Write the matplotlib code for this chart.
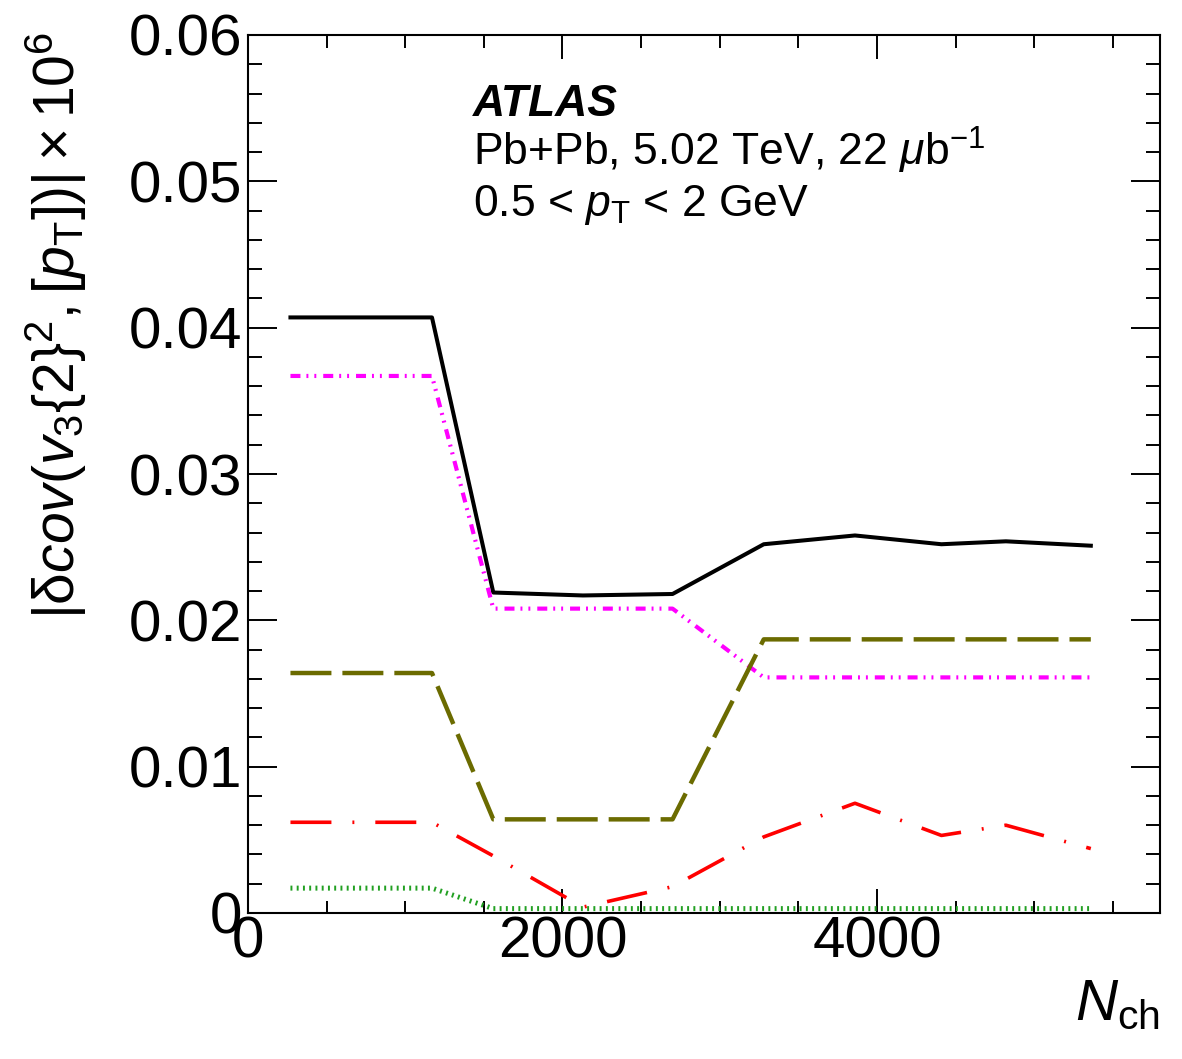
import matplotlib
matplotlib.use('Agg')
import matplotlib.pyplot as plt
from matplotlib.ticker import MultipleLocator, FuncFormatter

plt.rcParams['font.family'] = ['Liberation Sans', 'DejaVu Sans']
plt.rcParams['mathtext.fontset'] = 'custom'
plt.rcParams['mathtext.rm'] = 'Liberation Sans'
plt.rcParams['mathtext.it'] = 'Liberation Sans:italic'
plt.rcParams['mathtext.bf'] = 'Liberation Sans:bold'
plt.rcParams['lines.scale_dashes'] = False

# Datos
nch = [270, 1170, 1560, 2130, 2700, 3280, 3860, 4410, 4820, 5360]
total = [0.0407, 0.0407, 0.0219, 0.0217, 0.0218, 0.0252, 0.0258, 0.0252, 0.0254, 0.0251]
sys_magenta = [0.0367, 0.0367, 0.0208, 0.0208, 0.0208, 0.0161, 0.0161, 0.0161, 0.0161, 0.0161]
sys_olive = [0.0164, 0.0164, 0.0064, 0.0064, 0.0064, 0.0187, 0.0187, 0.0187, 0.0187, 0.0187]
sys_red = [0.0062, 0.0062, 0.0039, 0.0004, 0.0018, 0.0052, 0.0075, 0.0053, 0.0060, 0.0044]
sys_green = [0.0017, 0.0017, 0.0003, 0.0003, 0.0003, 0.0003, 0.0003, 0.0003, 0.0003, 0.0003]

fig = plt.figure(figsize=(11.82, 10.59), dpi=100)
ax = fig.add_axes([248 / 1182, 1 - 913 / 1059, (1160 - 248) / 1182, (913 - 35) / 1059])

ax.plot(nch, total, color='black', lw=2.9)
ax.plot(nch, sys_magenta, color='#ff00ff', lw=3.0,
        linestyle=(0, (7.2, 4.3, 1.4, 4.3, 1.4, 5.0)))
ax.plot(nch, sys_olive, color='#6b6b00', lw=3.2, linestyle=(0, (29.5, 7.9)))
ax.plot(nch, sys_red, color='#ff0000', lw=2.6, linestyle=(0, (29.5, 15.1, 1.4, 15.1)))
ax.plot(nch, sys_green, color='#22a022', lw=3.6, linestyle=(0, (1.4, 3.1)))

ax.set_xlim(0, 5800)
ax.set_ylim(0, 0.06)
ax.xaxis.set_major_locator(MultipleLocator(2000))
ax.xaxis.set_minor_locator(MultipleLocator(500))
ax.yaxis.set_major_locator(MultipleLocator(0.01))
ax.yaxis.set_minor_locator(MultipleLocator(0.002))
ax.yaxis.set_major_formatter(FuncFormatter(lambda v, p: '0' if abs(v) < 1e-9 else f'{v:.2f}'))

ax.tick_params(which='both', direction='in', top=True, right=True, width=1.4, labelsize=42)
ax.tick_params(axis='y', which='major', length=21, pad=4)
ax.tick_params(axis='y', which='minor', length=10)
ax.tick_params(axis='x', which='major', length=17, pad=2)
ax.tick_params(axis='x', which='minor', length=9)
for s in ax.spines.values():
    s.set_linewidth(1.5)

fig.text(56 / 1182, 1 - 32 / 1059,
         r'|δ$cov(v_{3}\{2\}^{2},[p_{\rm T}])| \times 10^{6}$',
         rotation=90, ha='center', va='top', fontsize=41)
fig.text(1160 / 1182, 1 - 1020 / 1059, r'$N_{\rm ch}$', ha='right', va='baseline', fontsize=42)

fig.text(473 / 1182, 1 - 116 / 1059, 'ATLAS', fontsize=32, fontweight='bold', fontstyle='italic')
fig.text(473 / 1182, 1 - 166 / 1059, r'Pb+Pb, 5.02 TeV, 22 $\mu$b$^{-1}$', fontsize=32)
fig.text(473 / 1182, 1 - 216 / 1059, r'0.5 < $p_{\rm T}$ < 2 GeV', fontsize=32)

fig.savefig('out.png', dpi=100)
